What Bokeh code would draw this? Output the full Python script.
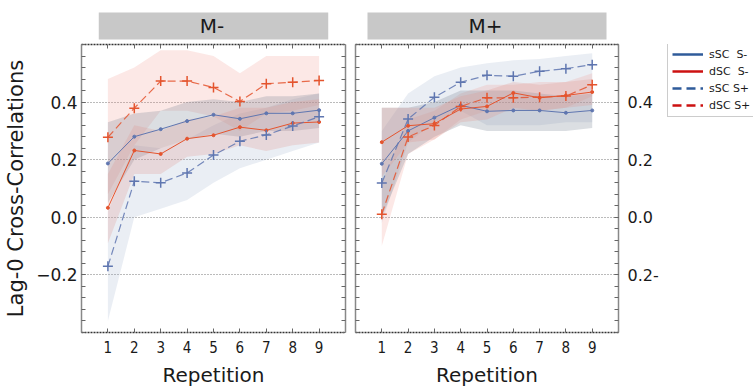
from bokeh.plotting import figure
from bokeh.models import Range1d, LinearAxis, FixedTicker, Legend, LegendItem, Grid
from bokeh.layouts import row
from bokeh.embed import file_html
from bokeh.resources import INLINE

reps = [1, 2, 3, 4, 5, 6, 7, 8, 9]
y_ticks = [-0.2, 0.0, 0.2, 0.4]

# ---- M- panel ----
mm_ssc_sm = [0.187, 0.280, 0.306, 0.334, 0.356, 0.342, 0.361, 0.361, 0.372]
mm_ssc_sm_lo = [0.05, 0.20, 0.24, 0.27, 0.29, 0.28, 0.30, 0.30, 0.31]
mm_ssc_sm_hi = [0.33, 0.36, 0.37, 0.40, 0.41, 0.40, 0.42, 0.42, 0.43]
mm_dsc_sm = [0.033, 0.232, 0.220, 0.273, 0.285, 0.313, 0.302, 0.327, 0.331]
mm_dsc_sm_lo = [-0.09, 0.15, 0.15, 0.21, 0.22, 0.25, 0.23, 0.25, 0.26]
mm_dsc_sm_hi = [0.15, 0.32, 0.30, 0.34, 0.35, 0.38, 0.38, 0.40, 0.41]
mm_ssc_sp = [-0.170, 0.125, 0.120, 0.154, 0.216, 0.264, 0.286, 0.317, 0.349]
mm_ssc_sp_lo = [-0.36, 0.00, 0.03, 0.06, 0.12, 0.17, 0.20, 0.23, 0.26]
mm_ssc_sp_hi = [0.02, 0.25, 0.24, 0.27, 0.32, 0.36, 0.38, 0.41, 0.43]
mm_dsc_sp = [0.278, 0.379, 0.473, 0.473, 0.451, 0.402, 0.464, 0.469, 0.475]
mm_dsc_sp_lo = [0.08, 0.25, 0.37, 0.37, 0.35, 0.30, 0.36, 0.37, 0.39]
mm_dsc_sp_hi = [0.48, 0.52, 0.58, 0.58, 0.56, 0.50, 0.56, 0.56, 0.56]

# ---- M+ panel ----
mp_ssc_sm = [0.186, 0.300, 0.346, 0.389, 0.368, 0.371, 0.371, 0.363, 0.371]
mp_ssc_sm_lo = [0.00, 0.22, 0.28, 0.32, 0.30, 0.30, 0.30, 0.30, 0.31]
mp_ssc_sm_hi = [0.38, 0.38, 0.40, 0.44, 0.44, 0.44, 0.43, 0.42, 0.43]
mp_dsc_sm = [0.261, 0.318, 0.325, 0.376, 0.385, 0.432, 0.415, 0.423, 0.435]
mp_dsc_sm_lo = [0.14, 0.26, 0.27, 0.33, 0.34, 0.38, 0.37, 0.38, 0.39]
mp_dsc_sm_hi = [0.38, 0.38, 0.38, 0.42, 0.44, 0.47, 0.46, 0.47, 0.48]
mp_ssc_sp = [0.119, 0.341, 0.417, 0.469, 0.493, 0.490, 0.507, 0.516, 0.530]
mp_ssc_sp_lo = [-0.02, 0.26, 0.33, 0.37, 0.32, 0.32, 0.32, 0.33, 0.33]
mp_ssc_sp_hi = [0.30, 0.43, 0.49, 0.52, 0.535, 0.545, 0.55, 0.56, 0.57]
mp_dsc_sp = [0.011, 0.279, 0.319, 0.385, 0.415, 0.415, 0.417, 0.421, 0.460]
mp_dsc_sp_lo = [-0.10, 0.22, 0.27, 0.34, 0.37, 0.37, 0.37, 0.38, 0.42]
mp_dsc_sp_hi = [0.12, 0.34, 0.37, 0.43, 0.46, 0.46, 0.47, 0.47, 0.50]

legend_labels = ["sSC  S-", "dSC  S-", "sSC S+", "dSC S+"]

BLUE = "#5f76b0"
RED = "#e4542e"
TXT = "#1a1a1a"
FONT = "DejaVu Sans"
y_minor = [round(-0.4 + 0.04 * i, 2) for i in range(26)]
NAN = float("nan")


def make_axis(ticker, line_color, dash="solid", **kw):
    return LinearAxis(ticker=ticker, major_tick_in=4, major_tick_out=0,
                      minor_tick_in=4, minor_tick_out=0,
                      major_tick_line_color="#666", minor_tick_line_color="#666",
                      axis_line_color=line_color, axis_line_width=1.5,
                      axis_line_dash=dash,
                      major_label_text_color=TXT, axis_label_text_color=TXT,
                      axis_label_text_font=FONT, axis_label_text_font_style="normal",
                      **kw)


def make_panel(title, series, width, bl, br, y_side):
    p = figure(width=width, height=390, x_range=Range1d(0, 10), y_range=Range1d(-0.4, 0.6),
               output_backend="svg", toolbar_location=None,
               x_axis_location=None, y_axis_location=None,
               min_border_left=bl, min_border_right=br, min_border_top=44, min_border_bottom=58,
               background_fill_color="white", border_fill_color="white")
    p.outline_line_color = None
    for g in p.grid:
        g.visible = False
    p.title.text = title
    p.title.align = "center"
    p.title.text_font = FONT
    p.title.text_font_size = "20px"
    p.title.text_font_style = "normal"
    p.title.text_color = TXT
    p.title.background_fill_color = "#c8c8c8"
    p.title.padding = dict(left=101, right=104, top=1, bottom=2)
    p.title.standoff = 10

    p.add_layout(Grid(dimension=1, ticker=FixedTicker(ticks=y_ticks),
                      grid_line_color="#777", grid_line_dash="1 2", grid_line_width=1))

    xt = FixedTicker(ticks=reps, minor_ticks=[])
    xt_plain = FixedTicker(ticks=[], minor_ticks=reps)
    yt = FixedTicker(ticks=y_ticks, minor_ticks=y_minor)
    yt_plain = FixedTicker(ticks=[], minor_ticks=y_minor)

    bottom = make_axis(xt, "#333", "2 1", axis_label="Repetition")
    bottom.major_label_text_font = "DejaVu Sans Condensed"
    bottom.major_label_text_font_size = "15px"
    bottom.major_label_standoff = 8
    bottom.axis_label_text_font_size = "20px"
    bottom.axis_label_standoff = 7
    p.add_layout(bottom, "below")
    top = make_axis(xt_plain, "#333", "2 1", major_label_standoff=0)
    p.add_layout(top, "above")

    lab_ax = make_axis(yt, "#888")
    lab_ax.major_label_text_font = FONT
    plain_ax = make_axis(yt_plain, "#888", major_label_standoff=0)
    if y_side == "left":
        lab_ax.axis_label = "Lag-0 Cross-Correlations"
        lab_ax.axis_label_text_font_size = "21px"
        lab_ax.axis_label_standoff = 5
        lab_ax.major_label_text_font_size = "17px"
        lab_ax.major_label_standoff = 4
        lab_ax.major_label_overrides = {0: "0.0"}
        p.add_layout(lab_ax, "left")
        p.add_layout(plain_ax, "right")
    else:
        lab_ax.major_label_text_font_size = "16px"
        lab_ax.major_label_standoff = 9
        lab_ax.major_label_overrides = {0: "0.0", -0.2: "0.2-"}
        p.add_layout(lab_ax, "right")
        p.add_layout(plain_ax, "left")

    (ssc_sm, ssc_sm_lo, ssc_sm_hi, dsc_sm, dsc_sm_lo, dsc_sm_hi,
     ssc_sp, ssc_sp_lo, ssc_sp_hi, dsc_sp, dsc_sp_lo, dsc_sp_hi) = series

    p.varea(x=reps, y1=ssc_sp_lo, y2=ssc_sp_hi, fill_color="#97a8c8", fill_alpha=0.2)
    p.varea(x=reps, y1=dsc_sp_lo, y2=dsc_sp_hi, fill_color="#f28b82", fill_alpha=0.2)
    p.varea(x=reps, y1=ssc_sm_lo, y2=ssc_sm_hi, fill_color="#7d8797", fill_alpha=0.28)
    p.varea(x=reps, y1=dsc_sm_lo, y2=dsc_sm_hi, fill_color="#e0958a", fill_alpha=0.25)

    p.line(reps, ssc_sm, line_color=BLUE, line_width=1)
    p.scatter(reps, ssc_sm, marker="circle", size=3, color=BLUE)
    p.line(reps, dsc_sm, line_color=RED, line_width=1)
    p.scatter(reps, dsc_sm, marker="circle", size=3, color=RED)
    p.line(reps, ssc_sp, line_color=BLUE, line_width=1.2, line_dash="8 4", line_alpha=0.85)
    p.scatter(reps, ssc_sp, marker="cross", size=10, line_color=BLUE, line_width=1.5)
    p.line(reps, dsc_sp, line_color=RED, line_width=1.2, line_dash="8 4", line_alpha=0.85)
    p.scatter(reps, dsc_sp, marker="cross", size=10, line_color=RED, line_width=1.5)
    return p


p1 = make_panel("M-", (mm_ssc_sm, mm_ssc_sm_lo, mm_ssc_sm_hi, mm_dsc_sm, mm_dsc_sm_lo, mm_dsc_sm_hi,
                       mm_ssc_sp, mm_ssc_sp_lo, mm_ssc_sp_hi, mm_dsc_sp, mm_dsc_sp_lo, mm_dsc_sp_hi),
                350, 81, 5, "left")
p2 = make_panel("M+", (mp_ssc_sm, mp_ssc_sm_lo, mp_ssc_sm_hi, mp_dsc_sm, mp_dsc_sm_lo, mp_dsc_sm_hi,
                       mp_ssc_sp, mp_ssc_sp_lo, mp_ssc_sp_hi, mp_dsc_sp, mp_dsc_sp_lo, mp_dsc_sp_hi),
                311, 5, 42, "right")

# legend lives in a small figure of its own to the right of the M+ panel
p3 = figure(width=92, height=390, x_range=Range1d(0, 1), y_range=Range1d(0, 1),
            output_backend="svg", toolbar_location=None,
            x_axis_location=None, y_axis_location=None,
            min_border=0, border_fill_color="white", background_fill_color="white")
p3.outline_line_color = None
for g in p3.grid:
    g.visible = False

leg_styles = [("#2f5b9a", "solid"), ("#cc1111", "solid"), ("#2f5b9a", "9 5"), ("#cc1111", "9 5")]
items = []
for lab, (c, d) in zip(legend_labels, leg_styles):
    r = p3.line(x=[NAN], y=[NAN], line_color=c, line_width=2.5, line_dash=d)
    items.append(LegendItem(label=lab, renderers=[r]))
legend = Legend(items=items, location=(6, 215), margin=0, padding=4, spacing=3,
                glyph_width=31, glyph_height=14, label_height=14, label_standoff=6,
                label_text_font=FONT, label_text_font_size="11px", label_text_color=TXT,
                border_line_color="#999", border_line_width=1, background_fill_color="white",
                background_fill_alpha=1)
p3.add_layout(legend)

layout = row(p1, p2, p3)
open("out.html", "w").write(file_html(layout, INLINE))
